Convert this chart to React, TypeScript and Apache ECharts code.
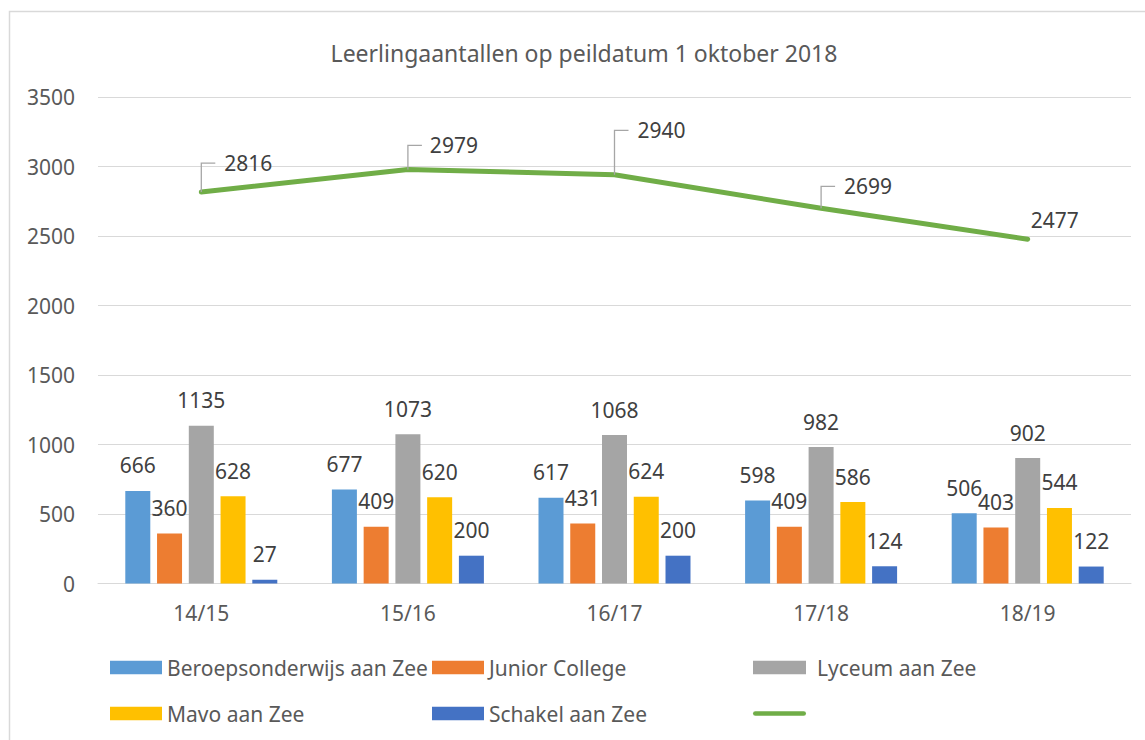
import React, { useEffect, useRef } from "react";
import * as echarts from "echarts";

const categories = ["14/15", "15/16", "16/17", "17/18", "18/19"];
const seriesNames = [
  "Beroepsonderwijs aan Zee",
  "Junior College",
  "Lyceum aan Zee",
  "Mavo aan Zee",
  "Schakel aan Zee",
];
const beroeps = [666, 677, 617, 598, 506];
const junior = [360, 409, 431, 409, 403];
const lyceum = [1135, 1073, 1068, 982, 902];
const mavo = [628, 620, 624, 586, 544];
const schakel = [27, 200, 200, 124, 122];
const totaal = [2816, 2979, 2940, 2699, 2477];
const totalName = " ";

const titleText = "Leerlingaantallen op peildatum 1 oktober 2018";

// styling of the line's data-label callouts (pixel offsets from each point)
const totalLabelDx = [47, 46, 47, 47, 27];
const totalLabelDy = [-29, -24, -44.5, -22, -19.5];
const totalLeader = [true, true, true, true, false];

const colors = ["#5B9BD5", "#ED7D31", "#A5A5A5", "#FFC000", "#4472C4"];
const lineColor = "#70AD47";
const font = "'Noto Sans', sans-serif";
const lineLegendIcon =
  "path://M2.5,0 L53.5,0 A2.5,2.5 0 0 1 53.5,5 L2.5,5 A2.5,2.5 0 0 1 2.5,0 Z";

export default function App() {
  const ref = useRef<HTMLDivElement>(null);
  useEffect(() => {
    document.body.style.margin = "0";
    const chart = echarts.init(ref.current!, null, { renderer: "svg" });
    const barData = [beroeps, junior, lyceum, mavo, schakel];
    const barSeries = seriesNames.map((name, i) => ({
      name,
      type: "bar",
      data: barData[i],
      barWidth: 25,
      barGap: "27%",
      itemStyle: { color: colors[i] },
      label: {
        show: true,
        position: "top",
        distance: 15,
        fontSize: 21,
        lineHeight: 21,
        color: "#404040",
        fontFamily: font,
      },
      z: 2,
    }));
    const legendText = { fontSize: 21, lineHeight: 21, color: "#595959", fontFamily: font };
    const option: any = {
      animation: false,
      backgroundColor: "#ffffff",
      title: {
        text: titleText,
        left: 579,
        textAlign: "center",
        top: 36,
        textStyle: { fontSize: 23, lineHeight: 23, fontWeight: "normal", color: "#595959", fontFamily: font },
      },
      graphic: [
        {
          type: "rect",
          shape: { x: 9.5, y: 11.5, width: 1150, height: 760 },
          style: { fill: "none", stroke: "#D9D9D9", lineWidth: 1.5 },
          silent: true,
        },
      ],
      grid: { left: 98, right: 14, top: 97, bottom: 156.5, containLabel: false },
      xAxis: {
        type: "category",
        data: categories,
        axisLine: { show: true, lineStyle: { color: "#D9D9D9", width: 1 } },
        axisTick: { show: false },
        axisLabel: { margin: 19, fontSize: 21, lineHeight: 21, color: "#595959", fontFamily: font },
      },
      yAxis: {
        type: "value",
        min: 0,
        max: 3500,
        interval: 500,
        axisLine: { show: false },
        axisTick: { show: false },
        splitLine: { lineStyle: { color: "#D9D9D9", width: 1 } },
        axisLabel: {
          margin: 23,
          fontSize: 21,
          lineHeight: 21,
          color: "#595959",
          fontFamily: font,
          formatter: (v: number) => String(v),
        },
      },
      legend: [
        {
          data: [
            { name: seriesNames[0], icon: "rect" },
            { name: seriesNames[3], icon: "rect" },
          ],
          left: 110,
          top: 657,
          padding: 0,
          orient: "vertical",
          itemWidth: 52,
          itemHeight: 13.5,
          itemGap: 25,
          textStyle: legendText,
          selectedMode: false,
        },
        {
          data: [
            { name: seriesNames[1], icon: "rect" },
            { name: seriesNames[4], icon: "rect" },
          ],
          left: 432,
          top: 657,
          padding: 0,
          orient: "vertical",
          itemWidth: 52,
          itemHeight: 13.5,
          itemGap: 25,
          textStyle: legendText,
          selectedMode: false,
        },
        {
          data: [
            { name: seriesNames[2], icon: "rect" },
            { name: totalName, icon: lineLegendIcon },
          ],
          left: 753,
          top: 657,
          padding: 0,
          orient: "vertical",
          itemWidth: 53,
          itemHeight: 13.5,
          itemGap: 25,
          symbolKeepAspect: true,
          textStyle: { ...legendText, padding: [0, 0, 0, 6] },
          selectedMode: false,
        },
      ],
      series: [
        ...barSeries,
        {
          name: totalName,
          type: "line",
          data: totaal,
          showSymbol: false,
          symbol: "none",
          lineStyle: { color: lineColor, width: 5, cap: "round", join: "round" },
          itemStyle: { color: lineColor },
          z: 3,
        },
        {
          name: "totaal-labels",
          type: "custom",
          coordinateSystem: "cartesian2d",
          silent: true,
          z: 4,
          data: totaal.map((v, i) => [i, v]),
          renderItem: (params: any, api: any) => {
            const i = params.dataIndex;
            const p = api.coord([api.value(0), api.value(1)]);
            const dx = totalLabelDx[i];
            const dy = totalLabelDy[i];
            const children: any[] = [];
            if (totalLeader[i]) {
              children.push({
                type: "polyline",
                shape: {
                  points: [
                    [p[0], p[1]],
                    [p[0], p[1] + dy],
                    [p[0] + 14, p[1] + dy],
                  ],
                },
                style: { stroke: "#A6A6A6", lineWidth: 1.3, fill: "none" },
              });
            }
            children.push({
              type: "text",
              x: p[0] + dx,
              y: p[1] + dy,
              style: {
                text: String(totaal[i]),
                fontSize: 21,
                fontFamily: font,
                fill: "#404040",
                align: "center",
                verticalAlign: "middle",
              },
            });
            return { type: "group", children };
          },
        },
      ],
    };
    chart.setOption(option);
    return () => chart.dispose();
  }, []);
  return <div ref={ref} style={{ width: 1145, height: 740 }} />;
}
